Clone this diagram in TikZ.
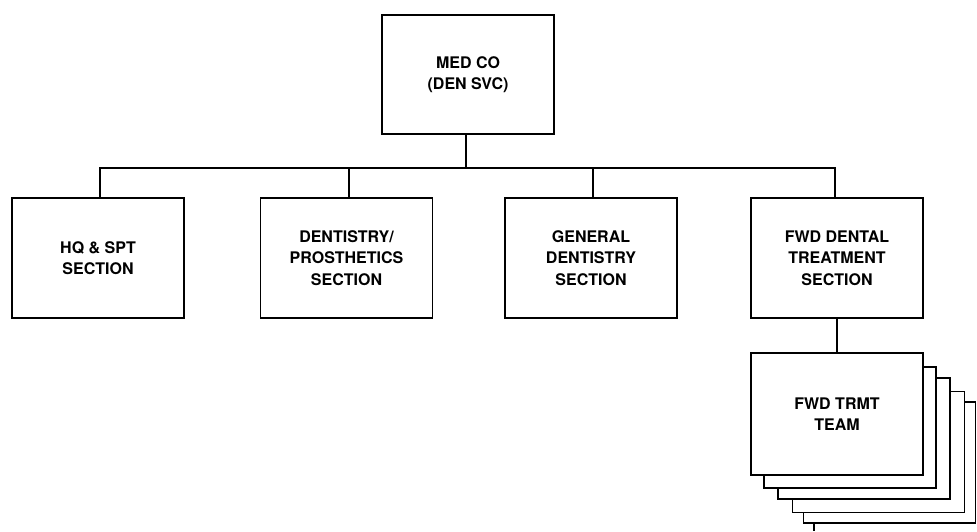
\documentclass[tikz,border=0pt]{standalone}
\usepackage{fontspec}
\setmainfont{TeX Gyre Heros}
\begin{document}
\begin{tikzpicture}[x=1pt,y=-1pt,
  orgbox/.style={draw, line width=1.7pt, fill=white, minimum width=172pt, minimum height=120pt,
    align=center, inner sep=0pt, font=\fontsize{16}{21.5}\selectfont\bfseries},
  backbox/.style={draw, line width=1.7pt, fill=white, minimum width=172pt, minimum height=121pt, inner sep=0pt},
  link/.style={line width=1.7pt}]
\useasboundingbox (0,0) rectangle (977,531);
% stacked team boxes (back to front)
\node[backbox] (t5) at (889.5,462.5) {};
\node[backbox] (t4) at (878.5,452) {};
\node[backbox] (t3) at (864,438.5) {};
\node[backbox] (t2) at (850,427.5) {};
\node[orgbox, minimum height=122pt] (team) at (837,414) {FWD TRMT\\TEAM};
\coordinate (tail) at (814,531);
\draw[link] (t5.south -| tail) -- (tail);
% main boxes
\node[orgbox, minimum height=119pt] (top) at (468,74.5) {MED CO\\(DEN SVC)};
\node[orgbox] (hq) at (98,258) {HQ \& SPT\\SECTION};
\node[orgbox] (dp) at (346.5,258) {DENTISTRY/\\PROSTHETICS\\SECTION};
\node[orgbox] (gd) at (591,258) {GENERAL\\DENTISTRY\\SECTION};
\node[orgbox] (fwd) at (837,258) {FWD DENTAL\\TREATMENT\\SECTION};
\coordinate (busL) at (100,168);
\coordinate (busR) at (835,168);
\draw[link] ([xshift=2pt]hq.north) -- (busL) -- (busR) -- ([xshift=-2pt]fwd.north);
\draw[link] ([xshift=-2pt]top.south) -- ([xshift=-2pt]top.south |- busL);
\draw[link] ([xshift=2.5pt]dp.north) -- ([xshift=2.5pt]dp.north |- busL);
\draw[link] ([xshift=2pt]gd.north) -- ([xshift=2pt]gd.north |- busL);
\draw[link] (fwd.south) -- (team.north);
\end{tikzpicture}
\end{document}
